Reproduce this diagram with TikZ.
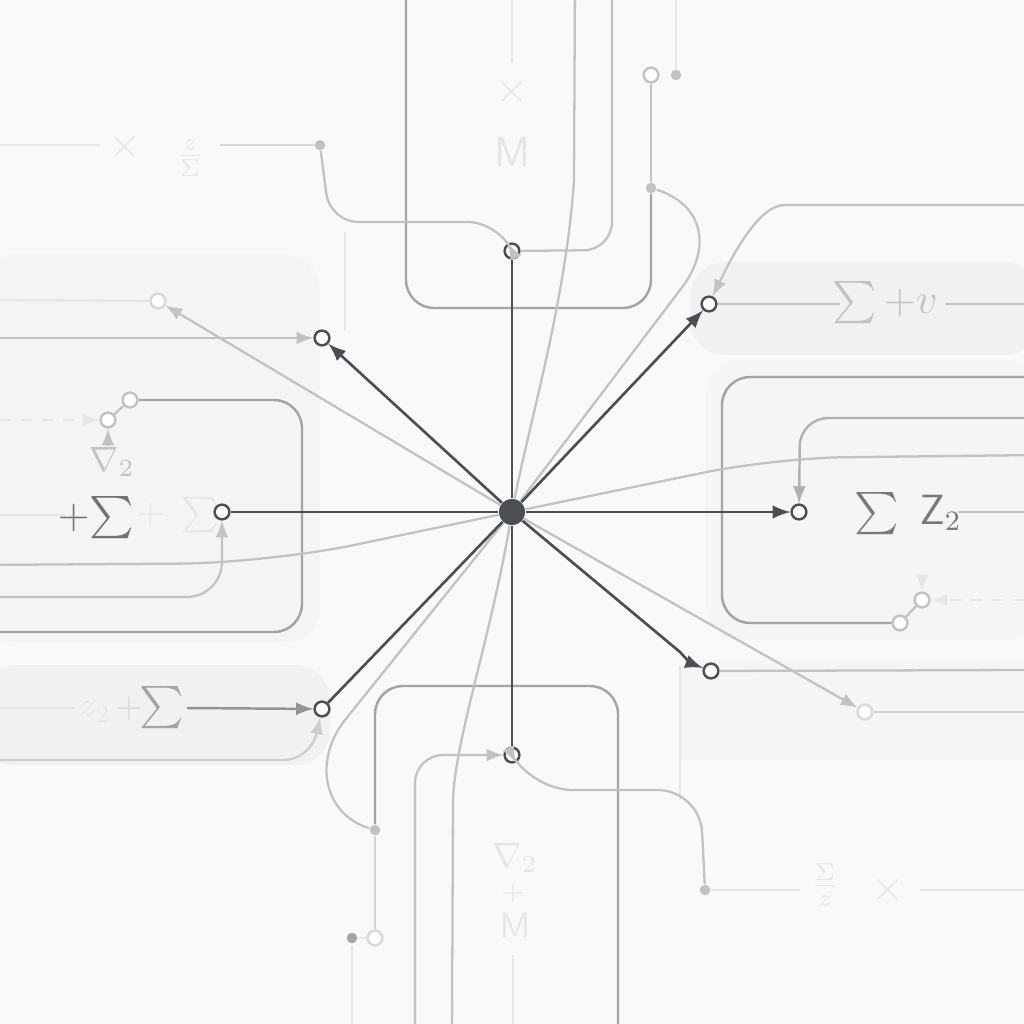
\documentclass[tikz,border=0pt]{standalone}
\usepackage{amssymb}
\usepackage{amsmath}
\usepackage{tikz}
\definecolor{ink}{HTML}{4B4E55}
\definecolor{mid}{HTML}{A4A4A4}
\definecolor{soft}{HTML}{C2C2C2}
\definecolor{pale}{HTML}{D8D8D8}
\definecolor{ghost}{HTML}{E6E6E6}
\definecolor{paper}{HTML}{F9F9F9}
\definecolor{panel}{HTML}{F1F1F1}

\begin{document}
\begin{tikzpicture}[x=0.01cm,y=-0.01cm,
    hub/.style={circle,fill=ink,inner sep=0pt,minimum size=7.4pt},
    port/.style={circle,draw=ink,fill=white,line width=0.7pt,inner sep=0pt,minimum size=4.2pt},
    lport/.style={port,draw=soft},
    gport/.style={port,draw=pale},
    knot/.style={circle,fill=soft,inner sep=0pt,minimum size=3pt},
    spoke/.style={draw=ink,line width=0.75pt},
    wire/.style={draw=soft,line width=0.65pt},
    frame/.style={draw=mid,line width=0.7pt,rounded corners=8pt},
    faint/.style={draw=ghost,line width=0.65pt},
    sym/.style={font=\large,text=#1,inner sep=0pt}]
            \useasboundingbox (0,0) rectangle (1024,1024);
            \fill[paper] (0,0) rectangle (1024,1024);
            % panels
            \fill[panel!60!paper,rounded corners=10pt] (-20,255) rectangle (320,642);
            \fill[panel,rounded corners=10pt] (-20,665) rectangle (330,765);
            \fill[panel,rounded corners=10pt] (690,262) rectangle (1040,355);
            \fill[panel!50!paper,rounded corners=10pt] (705,360) rectangle (1040,640);
            \fill[panel!50!paper] (680,660) rectangle (1040,760);
            \draw[faint] (345,232) -- (345,330);
            \draw[faint] (680,665) -- (680,800);

            % hub and spoke ends
            \node[hub] (hub) at (512,512) {};
            \node[port] (pN) at (512,251) {};
            \node[port] (pNE) at (709,304) {};
            \node[port] (pE) at (799,512) {};
            \node[port] (pSE) at (711,671) {};
            \node[port] (pS) at (512,755) {};
            \node[port] (pSW) at (322,709) {};
            \node[port] (pW) at (222,512) {};
            \node[port] (pNW) at (322,338) {};

            % top
            \node[lport] (pTop) at (651,75) {};
            \node[knot] (kTop) at (676,75) {};
            \node[knot] (kMid) at (651,188) {};
            \draw[faint] (676,0) -- (kTop);
            \draw[frame] (406,-20) -- (406,308) -- (651,308) -- (kMid);
            \draw[wire] (kMid) -- (pTop);
            \draw[wire,rounded corners=8pt] (612,-20) -- (612,250) -- (pN);
            \draw[wire] (575,-20) -- (574,180) .. controls (566,300) and (530,420) .. (hub);
            \draw[wire] (kMid) .. controls (705,205) and (712,250) .. (680,290) -- (hub);
            \draw[faint] (512,0) -- (512,62);
            \node[sym=ghost] (tX) at (512,92) {$\times$};
            \node[sym=ghost] (tM) at (512,152) {$\mathsf{M}$};

            % top left
            \node[knot] (kTL) at (320,145) {};
            \draw[faint] (0,145) -- (100,145);
            \node[sym=ghost] (tX2) at (125,147) {$\times$};
            \node[sym=ghost,font=\normalsize] (tF) at (190,158) {$\frac{z}{\Sigma}$};
            \draw[wire,draw=soft!60!paper] (220,145) -- (kTL);
            \draw[wire,-latex,rounded corners=8pt] (kTL) -- (330,222) -- (496,222) -- (pN);

            % upper right
            \draw[wire,-latex] (1040,205) -- (785,205) .. controls (760,205) and (735,250) .. (pNE);
            \draw[wire] (pNE) -- (840,304);
            \node[sym=soft] (tSv) at (885,303) {$\sum + v$};
            \draw[wire] (945,304) -- (1024,304);

            % right
            \node[lport] (pR1) at (900,623) {};
            \node[lport] (pR2) at (922,600) {};
            \draw[frame] (1040,377) -- (722,377) -- (722,623) -- (pR1);
            \draw[wire] (pR1) -- (pR2);
            \draw[faint,dashed,-latex] (1024,600) -- (pR2);
            \draw[faint,-latex] (922,575) -- (pR2);
            \draw[frame,draw=mid!85!paper,-latex] (1040,418) -- (800,418) -- (pE);
            \draw[wire,rounded corners=20pt] (hub) -- (775,458) -- (1040,455);
            \node[sym=ink!75!paper] (tSZ) at (908,514) {$\sum\ \mathsf{Z}_2$};
            \draw[wire] (958,512) -- (1024,512);

            % lower right
            \node[gport] (pLR) at (865,712) {};
            \draw[wire,-latex] (hub) -- (pLR);
            \draw[wire,draw=soft!70!paper] (pLR) -- (1024,712);
            \draw[wire] (pSE) -- (1024,670);

            % bottom
            \node[knot] (kBot) at (375,830) {};
            \node[gport] (pBot) at (375,938) {};
            \node[knot,fill=mid] (kBL) at (352,938) {};
            \node[knot] (kBR) at (705,890) {};
            \draw[frame] (618,1040) -- (618,686) -- (375,686) -- (kBot);
            \draw[wire,draw=soft!70!paper] (kBot) -- (pBot);
            \draw[faint] (kBL) -- (pBot);
            \draw[faint] (352,945) -- (352,1024);
            \draw[wire] (hub) -- (345,720) .. controls (312,762) and (325,815) .. (kBot);
            \draw[wire,-latex,rounded corners=8pt] (415,1040) -- (415,755) -- (pS);
            \draw[wire] (hub) .. controls (490,640) and (455,740) .. (453,800) -- (452,1040);
            \draw[wire,-latex,rounded corners=12pt] (kBR) -- (700,790) -- (530,790) -- (pS);
            \draw[faint] (kBR) -- (800,890);
            \node[sym=ghost,font=\normalsize] (tF2) at (825,885) {$\frac{\Sigma}{z}$};
            \node[sym=ghost] (tX3) at (888,890) {$\times$};
            \draw[faint] (920,890) -- (1024,890);
            \node[sym=ghost,font=\normalsize] (tNab) at (515,858) {$\nabla_2$};
            \node[sym=ghost,font=\footnotesize] (tPl) at (513,893) {$+$};
            \node[sym=ghost,font=\normalsize] (tM2) at (515,925) {$\mathsf{M}$};
            \draw[faint] (513,955) -- (513,1024);

            % lower left
            \draw[faint] (0,708) -- (75,708);
            \node[sym=ghost,font=\normalsize] (tZ) at (95,712) {$z_2$};
            \node[sym=pale,font=\normalsize] (tP) at (129,709) {$+$};
            \node[sym=mid] (tS1) at (162,708) {$\sum$};
            \draw[frame,draw=mid!90!black,-latex] (187,708) -- (pSW);
            \draw[wire,draw=soft!80!paper,-latex] (-20,760) -- (282,760) .. controls (305,760) and (315,742) .. (pSW);

            % left
            \node[lport] (pL1) at (130,400) {};
            \node[lport] (pL2) at (108,420) {};
            \draw[frame] (pL1) -- (302,400) -- (302,632) -- (-20,632);
            \draw[wire] (pL1) -- (pL2);
            \draw[faint,dashed,-latex] (0,420) -- (pL2);
            \draw[wire,-latex] (108,446) -- (pL2);
            \node[sym=soft,font=\normalsize] (tNab2) at (112,462) {$\nabla_2$};
            \draw[faint] (0,515) -- (65,515);
            \node[sym=ink!80!paper] (tPS) at (96,518) {$+\!\sum$};
            \node[sym=ghost,font=\normalsize] (tPS2) at (178,515) {$+\ \sum$};
            \draw[wire,-latex,rounded corners=10pt] (-20,597) -- (222,597) -- (pW);
            \draw[wire,rounded corners=25pt] (hub) -- (268,563) -- (-20,565);

            % upper left
            \node[gport] (pUL) at (158,301) {};
            \draw[faint] (0,300) -- (pUL);
            \draw[wire,-latex] (hub) -- (pUL);
            \draw[wire,-latex] (0,338) -- (pNW);

            % dark spokes
            \draw[spoke] (hub) -- (pN);
            \draw[spoke,-latex] (hub) -- (pNE);
            \draw[spoke,-latex] (hub) -- (pE);
            \draw[spoke,-latex] (hub) -- (680,652) .. controls (690,663) .. (pSE);
            \draw[spoke] (hub) -- (pS);
            \draw[spoke] (hub) -- (pSW);
            \draw[spoke] (hub) -- (pW);
            \draw[spoke,-latex] (hub) -- (pNW);
            \node[hub] at (hub) {};
          \end{tikzpicture}
\end{document}
